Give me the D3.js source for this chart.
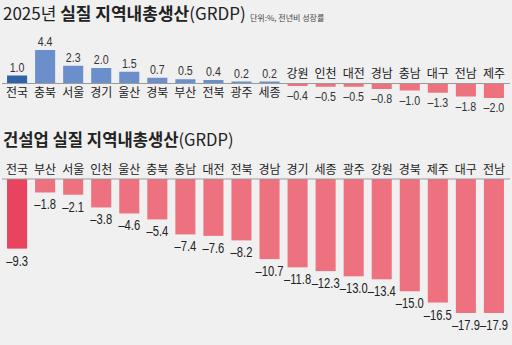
<!DOCTYPE html>
<html><head><meta charset="utf-8">
<script src="https://cdn.jsdelivr.net/npm/d3@7"></script>
<style>
html,body{margin:0;padding:0;background:#f0f0f0;}
svg{display:block;}
</style></head>
<body>
<svg id="c" width="512" height="345"></svg>
<script>
const cats1 = ["전국","충북","서울","경기","울산","경북","부산","전북","광주","세종","강원","인천","대전","경남","충남","대구","전남","제주"];
const vals1 = [1.0,4.4,2.3,2.0,1.5,0.7,0.5,0.4,0.2,0.2,-0.4,-0.5,-0.5,-0.8,-1.0,-1.3,-1.8,-2.0];
const cats2 = ["전국","부산","서울","인천","울산","충북","충남","대전","전북","경남","경기","세종","광주","강원","경북","제주","대구","전남"];
const vals2 = [-9.3,-1.8,-2.1,-3.8,-4.6,-5.4,-7.4,-7.6,-8.2,-10.7,-11.8,-12.3,-13.0,-13.4,-15.0,-16.5,-17.9,-17.9];

const svg = d3.select("#c");
const KR = "'Noto Sans CJK KR','Noto Sans',sans-serif";
const NUM = "'Liberation Sans','Roboto',sans-serif";
const fmt = v => (v < 0 ? "\u2013" : "") + Math.abs(v).toFixed(1);

svg.append("rect").attr("width",512).attr("height",345).attr("fill","#f0f0f0");

// Titles
const t1 = svg.append("text").attr("x",3).attr("y",20).attr("font-family",KR).attr("font-size",17).attr("fill","#222");
t1.append("tspan").attr("font-weight",400).text("2025년 ");
t1.append("tspan").attr("font-weight",700).text("실질 지역내총생산");
t1.append("tspan").attr("font-weight",400).text("(GRDP)");
svg.append("text").attr("x",250).attr("y",21).attr("font-family",KR).attr("font-size",8).attr("fill","#444").text("단위:%, 전년비 성장률");

const t2 = svg.append("text").attr("x",3).attr("y",146).attr("font-family",KR).attr("font-size",16.6).attr("fill","#222");
t2.append("tspan").attr("font-weight",700).text("건설업 실질 지역내총생산");
t2.append("tspan").attr("font-weight",400).text("(GRDP)");

// Chart 1
const x1 = d3.scaleBand().domain(cats1).range([2,509]).paddingInner(0.285).paddingOuter(0.18);
const y1 = d3.scaleLinear().domain([0,4.4]).range([83,50]);
const g1 = svg.append("g");
g1.selectAll("rect").data(vals1).join("rect")
  .attr("x",(d,i)=>x1(cats1[i])).attr("width",x1.bandwidth())
  .attr("y",d=>Math.min(y1(d),y1(0))).attr("height",d=>Math.abs(y1(d)-y1(0)))
  .attr("fill",(d,i)=> i===0 ? "#2f64a8" : (d>=0 ? "#6b8fcb" : "#ee717e"));
g1.append("line").attr("x1",2).attr("x2",510).attr("y1",y1(0)+0.5).attr("y2",y1(0)+0.5).attr("stroke","#9a9a9a").attr("stroke-width",1);
g1.selectAll("text.cat").data(vals1).join("text").attr("class","cat")
  .attr("x",(d,i)=>x1(cats1[i])+x1.bandwidth()/2)
  .attr("y",d=> d>=0 ? y1(0)+14 : y1(0)-5)
  .attr("text-anchor","middle").attr("font-family",KR).attr("font-size",12).attr("fill","#222")
  .text((d,i)=>cats1[i]);
g1.selectAll("text.val").data(vals1).join("text").attr("class","val")
  .attr("transform",(d,i)=>`translate(${x1(cats1[i])+x1.bandwidth()/2},${d>=0 ? y1(d)-4 : y1(d)+14}) scale(0.82,1)`)
  .attr("text-anchor","middle").attr("font-family",NUM).attr("font-size",13).attr("fill","#333")
  .text(d=>fmt(d));

// Chart 2
const x2 = d3.scaleBand().domain(cats2).range([2,509]).paddingInner(0.285).paddingOuter(0.18);
const y2 = d3.scaleLinear().domain([0,-17.9]).range([179,313]);
const g2 = svg.append("g");
g2.selectAll("rect").data(vals2).join("rect")
  .attr("x",(d,i)=>x2(cats2[i])).attr("width",x2.bandwidth())
  .attr("y",y2(0)).attr("height",d=>y2(d)-y2(0))
  .attr("fill",(d,i)=> i===0 ? "#e8435f" : "#ed717e");
g2.append("line").attr("x1",2).attr("x2",510).attr("y1",y2(0)).attr("y2",y2(0)).attr("stroke","#9a9a9a").attr("stroke-width",1);
g2.selectAll("text.cat").data(vals2).join("text").attr("class","cat")
  .attr("x",(d,i)=>x2(cats2[i])+x2.bandwidth()/2)
  .attr("y",y2(0)-5)
  .attr("text-anchor","middle").attr("font-family",KR).attr("font-size",12).attr("fill","#222")
  .text((d,i)=>cats2[i]);
g2.selectAll("text.val").data(vals2).join("text").attr("class","val")
  .attr("transform",(d,i)=>`translate(${x2(cats2[i])+x2.bandwidth()/2},${y2(d)+17}) scale(0.8,1)`)
  .attr("text-anchor","middle").attr("font-family",NUM).attr("font-size",14).attr("fill","#222")
  .text(d=>fmt(d));
</script>
</body></html>
